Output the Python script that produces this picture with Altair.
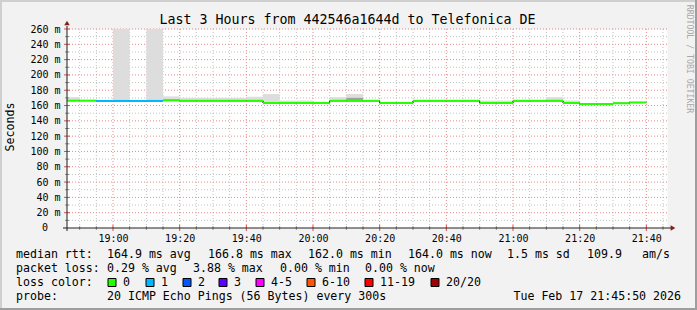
import altair as alt
import pandas as pd

# ---------------- data ----------------
bin_start = ["18:45", "18:50", "18:55", "19:00", "19:05", "19:10", "19:15", "19:20",
             "19:25", "19:30", "19:35", "19:40", "19:45", "19:50", "19:55", "20:00",
             "20:05", "20:10", "20:15", "20:20", "20:25", "20:30", "20:35", "20:40",
             "20:45", "20:50", "20:55", "21:00", "21:05", "21:10", "21:15", "21:20",
             "21:25", "21:30", "21:35"]
median_ms = [166.4, 166.4, 166.0, 166.0, 166.0, 166.0, 166.8, 166.2,
             166.2, 166.2, 166.2, 166.2, 163.3, 163.3, 163.3, 163.3,
             166.2, 166.2, 166.2, 163.3, 163.3, 166.2, 166.2, 166.2,
             166.2, 163.3, 163.3, 166.2, 166.2, 166.2, 163.3, 162.0,
             162.0, 163.0, 164.0]
lost_pings = [0, 0, 1, 1, 1, 1, 0, 0,
              0, 0, 0, 0, 0, 0, 0, 0,
              0, 0, 0, 0, 0, 0, 0, 0,
              0, 0, 0, 0, 0, 0, 0, 0,
              0, 0, 0]
smoke_top_ms = [171.0, 166.4, 166.0, 400.0, 166.0, 400.0, 172.0, 170.0,
                170.0, 170.0, 170.0, 171.5, 175.0, 166.5, 166.5, 163.3,
                171.0, 175.0, 166.2, 163.3, 163.3, 166.2, 166.2, 166.2,
                166.2, 166.5, 166.5, 166.2, 166.2, 171.0, 166.5, 162.0,
                162.0, 163.0, 164.0]
smoke_dark_top_ms = [None] * 17 + [170.0] + [None] * 17

loss_labels = ["0", "1", "2", "3", "4-5", "6-10", "11-19", "20/20"]
loss_colors = ["#26ff00", "#00b8ff", "#0059ff", "#5e00ff", "#ff00ff", "#ff5500", "#ff0000", "#a10000"]

x_tick_labels = ["19:00", "19:20", "19:40", "20:00", "20:20", "20:40", "21:00", "21:20", "21:40"]
y_tick_values = [0, 20, 40, 60, 80, 100, 120, 140, 160, 180, 200, 220, 240, 260]

title_text = "Last 3 Hours from 442546a1644d to Telefonica DE"
y_title = "Seconds"
watermark = "RRDTOOL / TOBI OETIKER"
rtt_items = ["median rtt:", "164.9 ms avg", "166.8 ms max", "162.0 ms min",
             "164.0 ms now", "1.5 ms sd", "109.9", "am/s"]
loss_items = ["packet loss:", "0.29 % avg", "3.88 % max", "0.00 % min", "0.00 % now"]
color_caption = "loss color:"
probe_items = ["probe:", "20 ICMP Echo Pings (56 Bytes) every 300s"]
stamp = "Tue Feb 17 21:45:50 2026"

# ---------------- layout (pixels in the 697x310 image) ----------------
PL, PT, W, H = 67, 29, 600, 199
X_DOMAIN = [18 * 60 + 46.2, 21 * 60 + 46.2]
MONO = "DejaVu Sans Mono"
rtt_x = [16, 107, 208, 308, 408, 507, 587, 642]
loss_x = [16, 107, 193, 280, 365]
box_x = [108, 146, 183, 219, 256, 307, 365, 431]
probe_x = [16, 107]
line_y = [254.8, 268.8, 282.8, 296.8]


def to_min(s):
    h, m = s.split(":")
    return int(h) * 60 + int(m)


def bucket(n):
    if n <= 3:
        return str(n)
    if n <= 5:
        return "4-5"
    if n <= 10:
        return "6-10"
    if n <= 19:
        return "11-19"
    return "20/20"


df = pd.DataFrame({
    "t": [to_min(s) for s in bin_start],
    "median": median_ms,
    "smoke_top": smoke_top_ms,
    "dark_top": smoke_dark_top_ms,
    "loss": [bucket(n) for n in lost_pings],
})
df["t_end"] = df["t"] + 5
line_df = pd.concat([df[["t", "median"]],
                     pd.DataFrame({"t": [df["t"].iloc[-1] + 5], "median": [df["median"].iloc[-1]]})],
                    ignore_index=True)

xs = alt.Scale(domain=X_DOMAIN, nice=False, zero=False)
ys = alt.Scale(domain=[0, 260], nice=False, zero=True)
x_axis = alt.Axis(values=[to_min(s) for s in x_tick_labels],
                  labelExpr="format(floor(datum.value/60),'02d') + ':' + format(datum.value%60,'02d')",
                  title=None, grid=False, domain=False, ticks=False, labelPadding=5,
                  labelFont=MONO, labelFontSize=10, labelColor="#000000",
                  labelFlush=False, labelOverlap=False)
y_axis = alt.Axis(values=y_tick_values,
                  labelExpr="datum.value == 0 ? '' : datum.value + '\u00a0m'",
                  title=None, grid=False, domain=False, ticks=False, labelPadding=7,
                  labelFont=MONO, labelFontSize=10, labelColor="#000000",
                  labelFlush=False, labelOverlap=False)


def X(f):
    return alt.X(f, type="quantitative", scale=xs, axis=x_axis)


def Y(f):
    return alt.Y(f, type="quantitative", scale=ys, axis=y_axis)


minor_x = pd.DataFrame({"t": [m for m in range(1130, 1307, 5) if m % 20 != 0]})
major_x = pd.DataFrame({"t": [m for m in range(1140, 1307, 20)]})
minor_y = pd.DataFrame({"v": [v for v in range(10, 261, 20)]})
major_y = pd.DataFrame({"v": [v for v in range(20, 261, 20)]})

GRID = "#c2c2c2"
MGRID = "#e88a8a"
layers = [
    alt.Chart(minor_x).mark_rule(color=GRID, strokeDash=[1, 2], strokeWidth=1).encode(x=X("t")),
    alt.Chart(minor_y).mark_rule(color=GRID, strokeDash=[1, 2], strokeWidth=1).encode(y=Y("v")),
    alt.Chart(major_x).mark_rule(color=MGRID, strokeDash=[1, 2], strokeWidth=1).encode(x=X("t")),
    alt.Chart(major_y).mark_rule(color=MGRID, strokeDash=[1, 2], strokeWidth=1).encode(y=Y("v")),
    # smoke
    alt.Chart(df).mark_rect(color="#dddddd", clip=True).encode(
        x=X("t"), x2="t_end:Q", y=Y("median"), y2="smoke_top:Q"),
    alt.Chart(df).transform_filter("isValid(datum.dark_top)").mark_rect(color="#a0a0a0", clip=True).encode(
        x=X("t"), x2="t_end:Q", y=Y("median"), y2="dark_top:Q"),
    # median
    alt.Chart(line_df).mark_line(interpolate="step-after", color="#000000", strokeWidth=1, clip=True).encode(
        x=X("t"), y=Y("median")),
    alt.Chart(df).mark_rule(strokeWidth=2, clip=True).encode(
        x=X("t"), x2="t_end:Q", y=Y("median"),
        color=alt.Color("loss:N", scale=alt.Scale(domain=loss_labels, range=loss_colors), legend=None)),
    # ticks
    alt.Chart(minor_x).mark_rule(color="#909090").encode(x=X("t"), y=alt.value(H - 2), y2=alt.value(H + 2)),
    alt.Chart(major_x).mark_rule(color="#de4f4f").encode(x=X("t"), y=alt.value(H - 3), y2=alt.value(H + 3)),
    alt.Chart(minor_y).mark_rule(color="#909090").encode(y=Y("v"), x=alt.value(-2), x2=alt.value(2)),
    alt.Chart(major_y).mark_rule(color="#de4f4f").encode(y=Y("v"), x=alt.value(-3), x2=alt.value(3)),
    # the "0" tick label sits further left in rrdtool
    alt.Chart(pd.DataFrame({"v": [0], "lab": ["0"]})).mark_text(
        align="right", baseline="middle", font=MONO, fontSize=10, color="#000000").encode(
        y=Y("v"), x=alt.value(48 - PL), text="lab:N"),
]

one = pd.DataFrame({"a": [0]})
# axis lines and arrows
layers += [
    alt.Chart(one).mark_rule(color="#1f1f1f", strokeWidth=1).encode(
        x=alt.value(-4), x2=alt.value(W + 4), y=alt.value(H)),
    alt.Chart(one).mark_rule(color="#1f1f1f", strokeWidth=1).encode(
        x=alt.value(0), y=alt.value(H + 3), y2=alt.value(-3)),
    alt.Chart(one).mark_point(shape="triangle-up", filled=True, color="#801f1f", size=30, opacity=1).encode(
        x=alt.value(0), y=alt.value(-6)),
    alt.Chart(one).mark_point(shape="triangle-right", filled=True, color="#801f1f", size=30, opacity=1).encode(
        x=alt.value(W + 6), y=alt.value(H)),
]


def text_layer(txt, x, y, size=11.6, align="left", color="#000000", angle=0):
    return alt.Chart(pd.DataFrame({"t": [txt.replace(" ", "\u00a0")]})).mark_text(
        align=align, baseline="middle", font=MONO, fontSize=size, color=color, angle=angle
    ).encode(text="t:N", x=alt.value(x - PL), y=alt.value(y - PT))


layers.append(text_layer(title_text, 347.5, 20, size=13.3, align="center"))
layers.append(text_layer(y_title, 11, 127, size=11.6, align="center", angle=270))
layers.append(text_layer(watermark, 689, 59, size=8.2, align="center", color="#a8a8a8", angle=90))
for txt, x in zip(rtt_items, rtt_x):
    layers.append(text_layer(txt, x, line_y[0]))
for txt, x in zip(loss_items, loss_x):
    layers.append(text_layer(txt, x, line_y[1]))
layers.append(text_layer(color_caption, 16, line_y[2]))
for lab, col, bx in zip(loss_labels, loss_colors, box_x):
    layers.append(alt.Chart(one).mark_rect(color=col, stroke="#000000", strokeWidth=1).encode(
        x=alt.value(bx - PL), x2=alt.value(bx + 8 - PL),
        y=alt.value(278.5 - PT), y2=alt.value(286.5 - PT)))
    layers.append(text_layer(lab, bx + 15, line_y[2]))
for txt, x in zip(probe_items, probe_x):
    layers.append(text_layer(txt, x, line_y[3]))
layers.append(text_layer(stamp, 681, line_y[3], align="right"))

# 3D frame
layers += [
    alt.Chart(one).mark_rect(color="#cfcfcf").encode(
        x=alt.value(-PL), x2=alt.value(697 - PL), y=alt.value(-PT), y2=alt.value(2 - PT)),
    alt.Chart(one).mark_rect(color="#cfcfcf").encode(
        x=alt.value(-PL), x2=alt.value(2 - PL), y=alt.value(-PT), y2=alt.value(310 - PT)),
    alt.Chart(one).mark_rect(color="#9e9e9e").encode(
        x=alt.value(-PL), x2=alt.value(697 - PL), y=alt.value(308 - PT), y2=alt.value(310 - PT)),
    alt.Chart(one).mark_rect(color="#9e9e9e").encode(
        x=alt.value(695 - PL), x2=alt.value(697 - PL), y=alt.value(-PT), y2=alt.value(310 - PT)),
]

chart = alt.layer(*layers).properties(
    width=W, height=H,
    autosize=alt.AutoSizeParams(type="none"),
    padding={"left": PL, "top": PT, "right": 697 - PL - W, "bottom": 310 - PT - H},
).configure(background="#f2f2f2").configure_view(fill="#ffffff", stroke="transparent")

chart.save("out.html", embed_options={"renderer": "svg", "actions": False})
